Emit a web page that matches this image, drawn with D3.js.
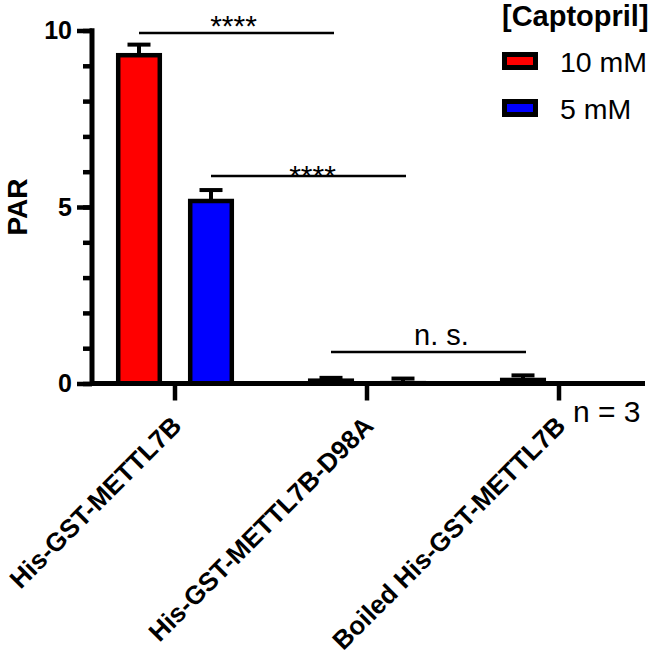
<!DOCTYPE html>
<html><head><meta charset="utf-8">
<script src="https://cdn.jsdelivr.net/npm/d3@7"></script>
<style>
html,body{margin:0;padding:0;background:#fff;}
text{font-family:Arial,"Liberation Sans",sans-serif;}
</style></head>
<body>
<svg id="chart" width="649" height="660"></svg>
<script>
const categories = ["His-GST-METTL7B", "His-GST-METTL7B-D98A", "Boiled His-GST-METTL7B"];
const series = ["10 mM", "5 mM"];
const seriesColors = ["#ff0000", "#0000ff"];
const values10mM = [9.3, 0.08, 0.1];
const values5mM = [5.17, 0.01, 0.0];
const err10mM = [0.3, 0.08, 0.13];
const err5mM = [0.31, 0.13, 0.0];
const majorTicks = [0, 5, 10];
const minorTicks = [0, 1, 2, 3, 4, 5, 6, 7, 8, 9, 10];
const sigLabels = ["****", "****", "n. s."];
const sigFromCat = [0, 0, 1];
const sigToCat = [1, 1, 2];
const sigSeries = [0, 1, 0];
const sigLevel = [9.93, 5.88, 0.89];
const legendTitle = "[Captopril]";
const yLabel = "PAR";
const nNote = "n = 3";

const svg = d3.select("#chart");
const W = 649;
const yAxisX = 92;
const y = d3.scaleLinear().domain([0, 10]).range([383.5, 30.5]);
const x0 = d3.scaleBand().domain(categories).range([79, 655]).padding(0);
const x1 = d3.scaleBand().domain(series).range([24, 168]).paddingInner(0.36).paddingOuter(0.18);

const valuesBySeries = [values10mM, values5mM];
const errBySeries = [err10mM, err5mM];
const rows = [];
categories.forEach((c, i) => series.forEach((s, j) => rows.push({c, s, j, v: valuesBySeries[j][i], e: errBySeries[j][i]})));

const sw = 4.5;
const cx = d => x0(d.c) + x1(d.s) + x1.bandwidth() / 2;

// bars
svg.append("g").selectAll("rect").data(rows).join("rect")
  .attr("x", d => x0(d.c) + x1(d.s) + sw / 2)
  .attr("width", x1.bandwidth() - sw)
  .attr("y", d => y(d.v))
  .attr("height", d => Math.max(0, y(0) - y(d.v)))
  .attr("fill", d => seriesColors[d.j])
  .attr("stroke", "#000").attr("stroke-width", sw);

// error bars
const eb = svg.append("g").attr("stroke", "#000").attr("stroke-width", 4);
eb.selectAll("line.stem").data(rows.filter(d => d.e > 0)).join("line").attr("class", "stem")
  .attr("x1", cx).attr("x2", cx).attr("y1", d => y(d.v)).attr("y2", d => y(d.v + d.e));
eb.selectAll("line.cap").data(rows.filter(d => d.e > 0)).join("line").attr("class", "cap")
  .attr("x1", d => cx(d) - 11.5).attr("x2", d => cx(d) + 11.5)
  .attr("y1", d => y(d.v + d.e)).attr("y2", d => y(d.v + d.e));

// y axis
const yMinor = svg.append("g").attr("transform", `translate(${yAxisX},0)`)
  .call(d3.axisLeft(y).tickValues(minorTicks).tickSize(9).tickSizeOuter(0).tickFormat(""));
yMinor.select(".domain").remove();
yMinor.selectAll("line").attr("stroke", "#000").attr("stroke-width", 4.5);
const yMajor = svg.append("g").attr("transform", `translate(${yAxisX},0)`)
  .call(d3.axisLeft(y).tickValues(majorTicks).tickSize(15).tickPadding(5).tickSizeOuter(0));
yMajor.select(".domain").remove();
yMajor.selectAll("line").attr("stroke", "#000").attr("stroke-width", 4.5);
yMajor.selectAll("text").attr("font-size", 25).attr("font-weight", "bold").attr("fill", "#000")
  .attr("font-family", "Arial, 'Liberation Sans', sans-serif");
svg.append("line").attr("x1", yAxisX).attr("x2", yAxisX).attr("y1", y(10) - 2.25).attr("y2", y(0))
  .attr("stroke", "#000").attr("stroke-width", 5);

// x axis
const xa = svg.append("g").attr("transform", `translate(0,${y(0)})`)
  .call(d3.axisBottom(x0).tickSize(17).tickSizeOuter(0).tickFormat(""));
xa.select(".domain").remove();
xa.selectAll("line").attr("stroke", "#000").attr("stroke-width", 4.5);
svg.append("line").attr("x1", yAxisX).attr("x2", W - 4).attr("y1", y(0)).attr("y2", y(0))
  .attr("stroke", "#000").attr("stroke-width", 5);

svg.append("g").selectAll("text").data(categories).join("text")
  .attr("transform", d => `translate(${x0(d) + x0.bandwidth() / 2 + 8},${y(0) + 44}) rotate(-45)`)
  .attr("text-anchor", "end").attr("font-size", 26).attr("font-weight", "bold").text(d => d);

// y label
svg.append("text").attr("transform", `translate(27,${(y(0) + y(10)) / 2}) rotate(-90)`)
  .attr("text-anchor", "middle").attr("font-size", 28).attr("font-weight", "bold").text(yLabel);

// significance
const sigDx = [-3, 4, 13];
const sigDy = [3, 10, -7];
const sg = svg.append("g");
sigLabels.forEach((lab, i) => {
  const xa1 = x0(categories[sigFromCat[i]]) + x1(series[sigSeries[i]]) + x1.bandwidth() / 2;
  const xa2 = x0(categories[sigToCat[i]]) + x1(series[sigSeries[i]]) + x1.bandwidth() / 2 + 3;
  sg.append("line").attr("x1", xa1).attr("x2", xa2).attr("y1", y(sigLevel[i])).attr("y2", y(sigLevel[i]))
    .attr("stroke", "#000").attr("stroke-width", 2.5);
  const isNs = lab.indexOf("*") < 0;
  sg.append("text").attr("x", (xa1 + xa2) / 2 + sigDx[i]).attr("y", y(sigLevel[i]) + sigDy[i])
    .attr("text-anchor", "middle").attr("font-size", isNs ? 29 : 30).text(lab);
});

// legend
const lg = svg.append("g").attr("transform", "translate(502,0)");
lg.append("text").attr("x", 0).attr("y", 26).attr("font-size", 29).attr("font-weight", "bold").text(legendTitle);
series.forEach((s, j) => {
  const g = lg.append("g").attr("transform", `translate(0,${52 + j * 47})`);
  g.append("rect").attr("x", 2.5).attr("y", 2.5).attr("width", 31).attr("height", 13)
    .attr("fill", seriesColors[j]).attr("stroke", "#000").attr("stroke-width", 5);
  g.append("text").attr("x", 58).attr("y", 19.5).attr("font-size", 28.5).text(s);
});

// n note
svg.append("text").attr("x", 573).attr("y", 422).attr("font-size", 30).text(nNote);
</script>
</body></html>
